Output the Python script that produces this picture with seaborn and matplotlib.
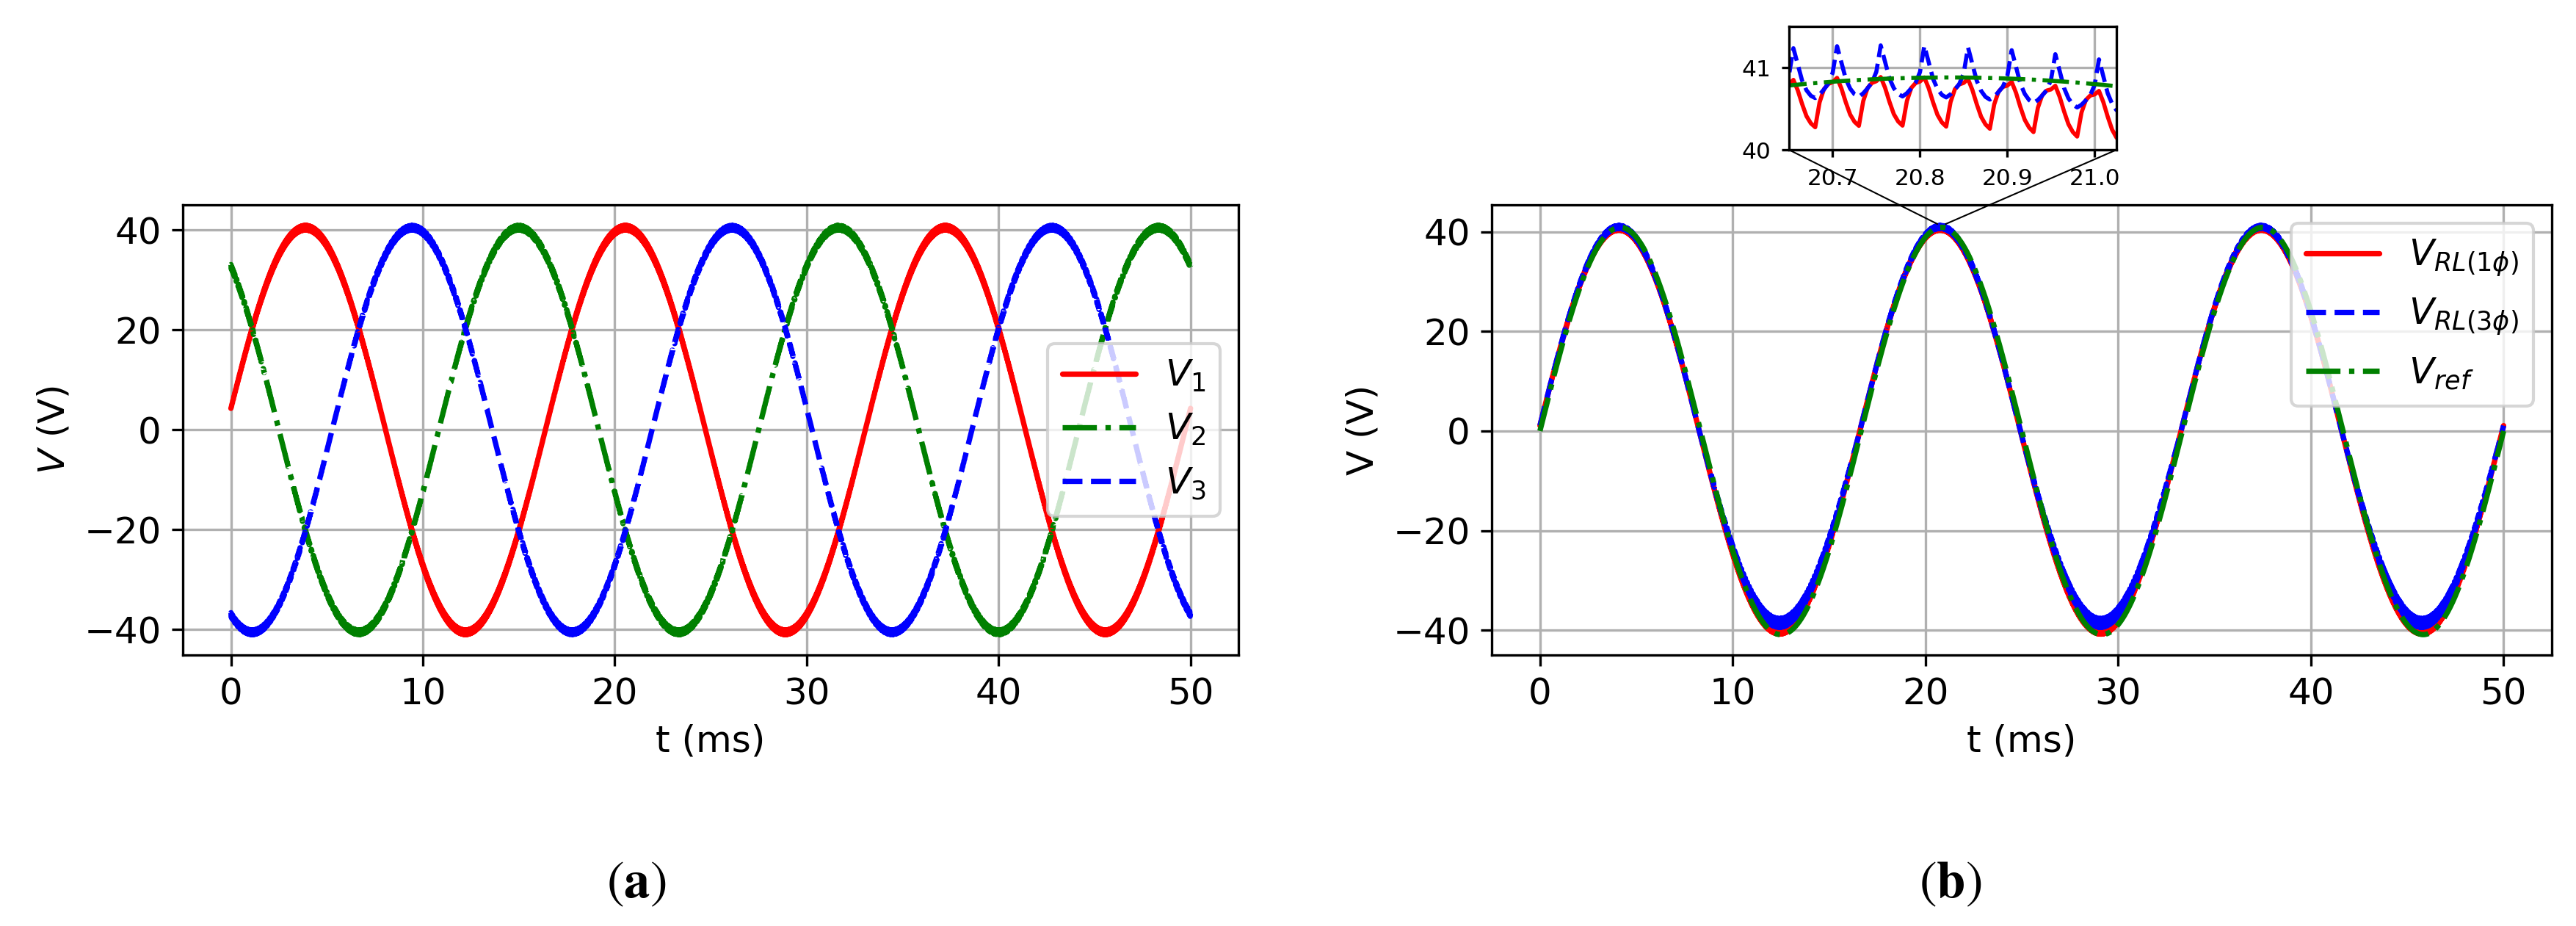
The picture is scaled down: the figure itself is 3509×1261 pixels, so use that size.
import numpy as np
import pandas as pd
import matplotlib
matplotlib.use("Agg")
import matplotlib.pyplot as plt
import seaborn as sns
from matplotlib.transforms import TransformedBbox
from mpl_toolkits.axes_grid1.inset_locator import BboxPatch, BboxConnector

# ---- values ----
FREQ_HZ = 60            # grid frequency (period 16.67 ms)
T_END_MS = 50.0
STEP_MS = 0.005         # simulation step, 10 samples per 20 kHz switching period

# (a) three-phase source voltages
AMP_SRC = 40.5
PHASE_SRC_DEG = [6, 126, -114]          # V1, V2, V3
LABELS_SRC = ["$V_1$", "$V_2$", "$V_3$"]
RIPPLE_SRC_SCALE = 1.6

# (b) load voltages vs reference
AMP_REF = 40.88
AMP_1PH = (40.63, 40.45)                # positive / negative half-cycle
AMP_3PH = (40.85, 38.85)
PHASE_LOAD_DEG = 1.5
RIPPLE_3PH_SCALE = (1.0, 2.9)
LABELS_LOAD = [r"$V_{RL(1\phi)}$", r"$V_{RL(3\phi)}$", r"$V_{ref}$"]

# one switching period of ripple (V around the local mean)
RIPPLE_1PH = [-0.335, -0.035, 0.125, 0.185, 0.205, 0.255, 0.125, -0.045, -0.195, -0.285]
RIPPLE_3PH = [-0.20, -0.16, -0.10, -0.03, 0.10, 0.42, 0.22, 0.02, -0.10, -0.17]
RIPPLE_OFFSET = 6

# inset window
INSET_XLIM = (20.65, 21.025)
INSET_YLIM = (40.0, 41.5)
INSET_XTICKS = [20.7, 20.8, 20.9, 21.0]
INSET_YTICKS = [40, 41]

t_ms = np.arange(0, T_END_MS + STEP_MS / 2, STEP_MS)


def wave(amp, phase_deg, ripple=None, scale=(1.0, 1.0)):
    s = np.sin(2 * np.pi * FREQ_HZ * t_ms / 1000 + np.deg2rad(phase_deg))
    a = np.where(s >= 0, amp[0], amp[1])
    v = a * s
    if ripple is not None:
        rip = np.asarray(ripple)[(np.arange(len(t_ms)) - RIPPLE_OFFSET) % len(ripple)]
        k = np.where(s >= 0, scale[0], scale[1])
        v = v + np.abs(s) * k * rip
    return v


df_a = pd.DataFrame({"t": t_ms})
for lab, ph in zip(LABELS_SRC, PHASE_SRC_DEG):
    df_a[lab] = wave((AMP_SRC, AMP_SRC), ph, RIPPLE_1PH, (RIPPLE_SRC_SCALE, RIPPLE_SRC_SCALE))

df_b = pd.DataFrame({"t": t_ms})
df_b[LABELS_LOAD[0]] = wave(AMP_1PH, PHASE_LOAD_DEG, RIPPLE_1PH)
df_b[LABELS_LOAD[1]] = wave(AMP_3PH, PHASE_LOAD_DEG, RIPPLE_3PH, RIPPLE_3PH_SCALE)
df_b[LABELS_LOAD[2]] = wave((AMP_REF, AMP_REF), 0)

# ---- style ----
sns.set_style("ticks", rc={
    "axes.edgecolor": "black", "axes.linewidth": 0.8,
    "xtick.color": "black", "ytick.color": "black",
    "axes.labelcolor": "black", "text.color": "black",
    "grid.color": "#b0b0b0", "grid.linewidth": 0.8,
})
plt.rcParams["font.family"] = ["DejaVu Sans"]
plt.rcParams.update({
    "font.size": 12, "axes.labelsize": 12, "xtick.labelsize": 12,
    "ytick.labelsize": 12, "legend.fontsize": 12,
    "xtick.major.size": 3.5, "ytick.major.size": 3.5,
    "xtick.major.width": 0.8, "ytick.major.width": 0.8,
})

LW = 1.75
styles_a = [("red", "-"), ("green", "-."), ("blue", "--")]
styles_b = [("red", "-"), ("blue", "--"), ("green", "-.")]

fig = plt.figure(figsize=(3509 / 300, 1261 / 300), dpi=300)
ax_a = fig.add_axes([0.0710, 0.2926, 0.4098, 0.4861])
ax_b = fig.add_axes([0.5791, 0.2926, 0.4115, 0.4861])

# (a)
for lab, (c, ls) in zip(LABELS_SRC, styles_a):
    sns.lineplot(data=df_a, x="t", y=lab, ax=ax_a, color=c, linestyle=ls,
                 linewidth=LW, label=lab, estimator=None)
ax_a.set_xlabel("t (ms)")
ax_a.set_ylabel("$V$ (V)")
ax_a.set_xticks([0, 10, 20, 30, 40, 50])
ax_a.set_yticks([-40, -20, 0, 20, 40])
ax_a.grid(True)
ax_a.legend(loc="center right")

# (b)
for lab, (c, ls) in zip(LABELS_LOAD, styles_b):
    sns.lineplot(data=df_b, x="t", y=lab, ax=ax_b, color=c, linestyle=ls,
                 linewidth=LW, label=lab, estimator=None)
ax_b.set_xlabel("t (ms)")
ax_b.set_ylabel("V (V)")
ax_b.set_xticks([0, 10, 20, 30, 40, 50])
ax_b.set_yticks([-40, -20, 0, 20, 40])
ax_b.grid(True)
ax_b.legend(loc="upper right")

# zoomed inset above panel (b)
axins = fig.add_axes([0.6945, 0.8382, 0.1271, 0.1332])
win = df_b[(df_b["t"] >= INSET_XLIM[0] - 0.01) & (df_b["t"] <= INSET_XLIM[1] + 0.01)]
for lab, (c, ls) in zip(LABELS_LOAD, styles_b):
    sns.lineplot(data=win, x="t", y=lab, ax=axins, color=c, linestyle=ls,
                 linewidth=1.35, estimator=None, legend=False)
axins.set_xlim(*INSET_XLIM)
axins.set_ylim(*INSET_YLIM)
axins.set_xticks(INSET_XTICKS)
axins.set_yticks(INSET_YTICKS)
axins.tick_params(labelsize=7.5, length=2.5)
axins.set_xlabel("")
axins.set_ylabel("")
axins.grid(True)

rect = TransformedBbox(axins.viewLim, ax_b.transData)
box = BboxPatch(rect, fill=False, ec="black", lw=0.5)
ax_b.add_patch(box)
for la, lb in [(3, 2), (4, 1)]:
    con = BboxConnector(axins.bbox, rect, loc1=la, loc2=lb, ec="black", lw=0.5)
    con.set_clip_on(False)
    axins.add_patch(con)

# sub-figure captions
fig.text(0.247, 0.046, r"$(\mathbf{a})$", math_fontfamily="stix", fontsize=17,
         ha="center", va="center")
fig.text(0.757, 0.046, r"$(\mathbf{b})$", math_fontfamily="stix", fontsize=17,
         ha="center", va="center")

fig.savefig("out.png", dpi=300)
plt.close(fig)
